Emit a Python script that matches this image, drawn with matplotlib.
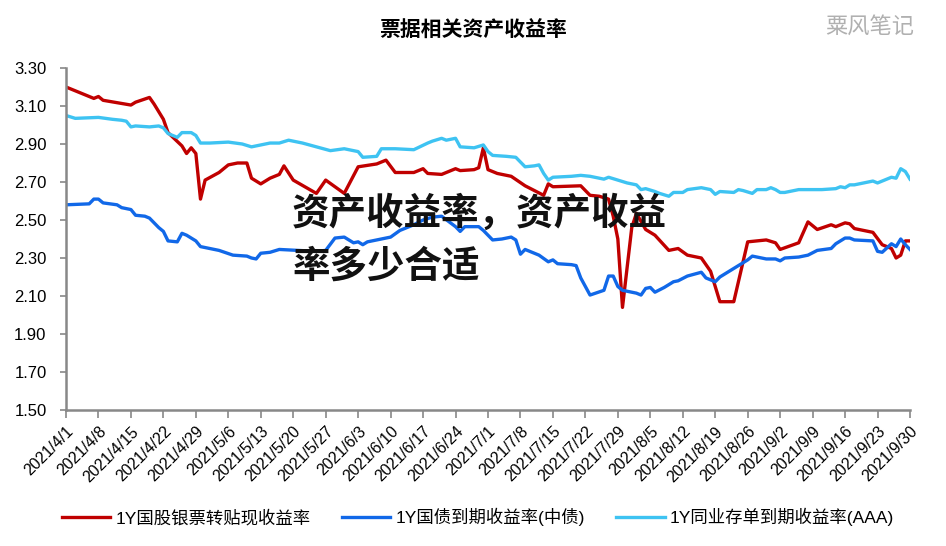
import numpy as np
import matplotlib
matplotlib.use("Agg")
from matplotlib import pyplot as plt

plt.rcParams['font.family'] = ['Liberation Sans', 'Noto Sans CJK SC']

# days since 2021-04-01, yields in %
red_days = [0, 6, 7, 8, 14, 15, 18, 19, 21, 22, 25, 26, 27, 28, 29, 30, 33, 35, 37, 39,
            40, 42, 44, 46, 47, 49, 54, 56, 60, 63, 67, 69, 71, 75, 77, 78, 81, 84, 85, 88,
            89, 90, 91, 93, 96, 99, 103, 104, 105, 111, 113, 115, 117, 118, 119, 120, 122, 123, 125, 127,
            130, 132, 134, 137, 139, 141, 144, 147, 151, 153, 154, 158, 160, 162, 165, 166, 168, 169, 170, 174,
            176, 178, 179, 180, 181, 182]
red_vals = [3.20, 3.14, 3.15, 3.13, 3.105, 3.12, 3.145, 3.11, 3.03, 2.96, 2.89, 2.85, 2.88, 2.85, 2.61, 2.71, 2.75, 2.79, 2.80, 2.80,
            2.72, 2.69, 2.72, 2.74, 2.785, 2.71, 2.64, 2.71, 2.64, 2.78, 2.795, 2.815, 2.75, 2.75, 2.77, 2.745, 2.74, 2.77, 2.76, 2.765,
            2.775, 2.88, 2.765, 2.745, 2.73, 2.68, 2.63, 2.69, 2.675, 2.68, 2.63, 2.625, 2.61, 2.52, 2.40, 2.04, 2.46, 2.535, 2.45, 2.42,
            2.34, 2.35, 2.315, 2.30, 2.23, 2.07, 2.07, 2.385, 2.395, 2.38, 2.345, 2.38, 2.49, 2.45, 2.475, 2.465, 2.485, 2.48, 2.455, 2.435,
            2.37, 2.35, 2.30, 2.315, 2.39, 2.39]

blue_days = [0, 5, 6, 7, 8, 11, 12, 14, 15, 17, 18, 20, 21, 22, 24, 25, 26, 28, 29, 33,
             36, 39, 40, 41, 42, 44, 46, 50, 54, 56, 58, 60, 62, 63, 64, 65, 68, 70, 72, 74,
             75, 77, 79, 81, 84, 85, 86, 89, 90, 92, 94, 96, 97, 98, 99, 102, 104, 105, 106, 109,
             110, 111, 113, 116, 117, 118, 119, 120, 122, 123, 124, 125, 126, 127, 129, 131, 132, 134, 137, 138,
             140, 141, 144, 147, 148, 151, 153, 154, 155, 158, 160, 162, 165, 166, 168, 169, 170, 174, 175, 176,
             178, 179, 180, 181, 182]
blue_vals = [2.58, 2.585, 2.61, 2.61, 2.59, 2.58, 2.565, 2.555, 2.525, 2.52, 2.51, 2.46, 2.44, 2.39, 2.385, 2.43, 2.42, 2.39, 2.36, 2.34,
             2.315, 2.31, 2.30, 2.295, 2.325, 2.33, 2.345, 2.34, 2.335, 2.34, 2.405, 2.41, 2.38, 2.385, 2.37, 2.385, 2.40, 2.41, 2.445, 2.465,
             2.475, 2.50, 2.515, 2.52, 2.465, 2.44, 2.465, 2.465, 2.445, 2.395, 2.40, 2.41, 2.395, 2.32, 2.345, 2.315, 2.28, 2.29, 2.27, 2.265,
             2.26, 2.195, 2.105, 2.13, 2.205, 2.205, 2.15, 2.13, 2.12, 2.115, 2.105, 2.14, 2.145, 2.12, 2.145, 2.175, 2.18, 2.205, 2.225, 2.195,
             2.175, 2.20, 2.245, 2.29, 2.31, 2.295, 2.295, 2.285, 2.30, 2.305, 2.315, 2.34, 2.35, 2.375, 2.405, 2.405, 2.395, 2.39, 2.335, 2.33,
             2.375, 2.36, 2.40, 2.37, 2.345]

cyan_days = [0, 2, 7, 10, 12, 13, 14, 15, 18, 20, 21, 22, 24, 25, 27, 28, 29, 31, 35, 38,
             40, 42, 44, 46, 48, 51, 54, 57, 60, 63, 64, 67, 68, 71, 75, 78, 79, 81, 82, 84,
             85, 88, 90, 91, 92, 95, 97, 98, 99, 101, 102, 103, 104, 105, 109, 111, 113, 116, 117, 119,
             121, 123, 124, 125, 127, 128, 130, 131, 133, 134, 137, 139, 140, 141, 144, 145, 146, 148, 149, 151,
             152, 153, 154, 155, 158, 159, 160, 161, 163, 166, 167, 168, 169, 170, 172, 174, 175, 177, 178, 179,
             180, 181, 182]
cyan_vals = [3.05, 3.035, 3.04, 3.03, 3.025, 3.02, 2.99, 2.995, 2.99, 2.995, 2.985, 2.955, 2.935, 2.96, 2.96, 2.945, 2.905, 2.905, 2.91, 2.90,
             2.885, 2.895, 2.905, 2.905, 2.92, 2.905, 2.885, 2.865, 2.875, 2.86, 2.83, 2.835, 2.875, 2.875, 2.87, 2.905, 2.915, 2.93, 2.92, 2.93,
             2.885, 2.88, 2.895, 2.86, 2.84, 2.835, 2.83, 2.805, 2.78, 2.785, 2.79, 2.745, 2.71, 2.725, 2.73, 2.735, 2.73, 2.715, 2.725, 2.71,
             2.695, 2.685, 2.66, 2.665, 2.65, 2.64, 2.625, 2.645, 2.645, 2.66, 2.67, 2.66, 2.635, 2.65, 2.645, 2.66, 2.655, 2.64, 2.66, 2.66,
             2.67, 2.66, 2.645, 2.645, 2.66, 2.66, 2.66, 2.66, 2.66, 2.665, 2.675, 2.67, 2.685, 2.685, 2.695, 2.705, 2.695, 2.715, 2.725, 2.72,
             2.77, 2.755, 2.715]

series_names = ["1Y国股银票转贴现收益率", "1Y国债到期收益率(中债)", "1Y同业存单到期收益率(AAA)"]
colors = ["#C00000", "#1168E8", "#3EC3F2"]

start = np.datetime64("2021-04-01")
tick_dates = start + np.arange(0, 183, 7)
tick_labels = [f"2021/{str(d)[5:7].lstrip('0')}/{str(d)[8:10].lstrip('0')}" for d in tick_dates]

fig = plt.figure(figsize=(9.46, 5.46), dpi=100)
ax = fig.add_axes([66 / 946, 1 - 410 / 546, 844 / 946, 342 / 546])

for days, vals, name, c in zip([red_days, blue_days, cyan_days],
                               [red_vals, blue_vals, cyan_vals], series_names, colors):
    ax.plot(start + np.array(days), vals, color=c, lw=2.4, label=name, solid_joinstyle="round")

ax.set_xlim(start, start + 182)
ax.set_ylim(1.5, 3.3)
ax.set_yticks(np.arange(1.5, 3.31, 0.2))
ax.set_yticklabels([f"{v:.2f}" for v in np.arange(1.5, 3.31, 0.2)], fontsize=12)
ax.set_xticks(tick_dates)
ax.set_xticklabels(tick_labels, rotation=45, ha="right", rotation_mode="anchor", fontsize=11.5)

for s in ["top", "right"]:
    ax.spines[s].set_visible(False)
for s in ["left", "bottom"]:
    ax.spines[s].set_color("#888888")
    ax.spines[s].set_linewidth(1.8)
ax.tick_params(axis="y", length=4, width=1.2, color="#888888", pad=10)
ax.tick_params(axis="x", length=6, width=1.2, color="#888888", pad=4)

fig.text(473 / 946, 1 - 30 / 546, "票据相关资产收益率", ha="center", va="center",
         fontsize=15, fontweight="bold", family=["Noto Sans CJK SC"])
fig.text(870 / 946, 1 - 26 / 546, "粟风笔记", ha="center", va="center",
         fontsize=16, color="#b0b0b0", family=["Noto Sans CJK SC"])

fig.text(292 / 946, 1 - 240 / 546, "资产收益率，资产收益\n率多少合适", ha="left", va="center",
         fontsize=27, fontweight=900, color="#111111", linespacing=1.45,
         family=["Noto Sans CJK SC"])

fig.legend(loc="center", bbox_to_anchor=(478 / 946, 1 - 517 / 546), ncol=3, frameon=False,
           fontsize=12.5, handlelength=2.8, columnspacing=1.8, handletextpad=0.3)

plt.savefig("out.png", dpi=100)
